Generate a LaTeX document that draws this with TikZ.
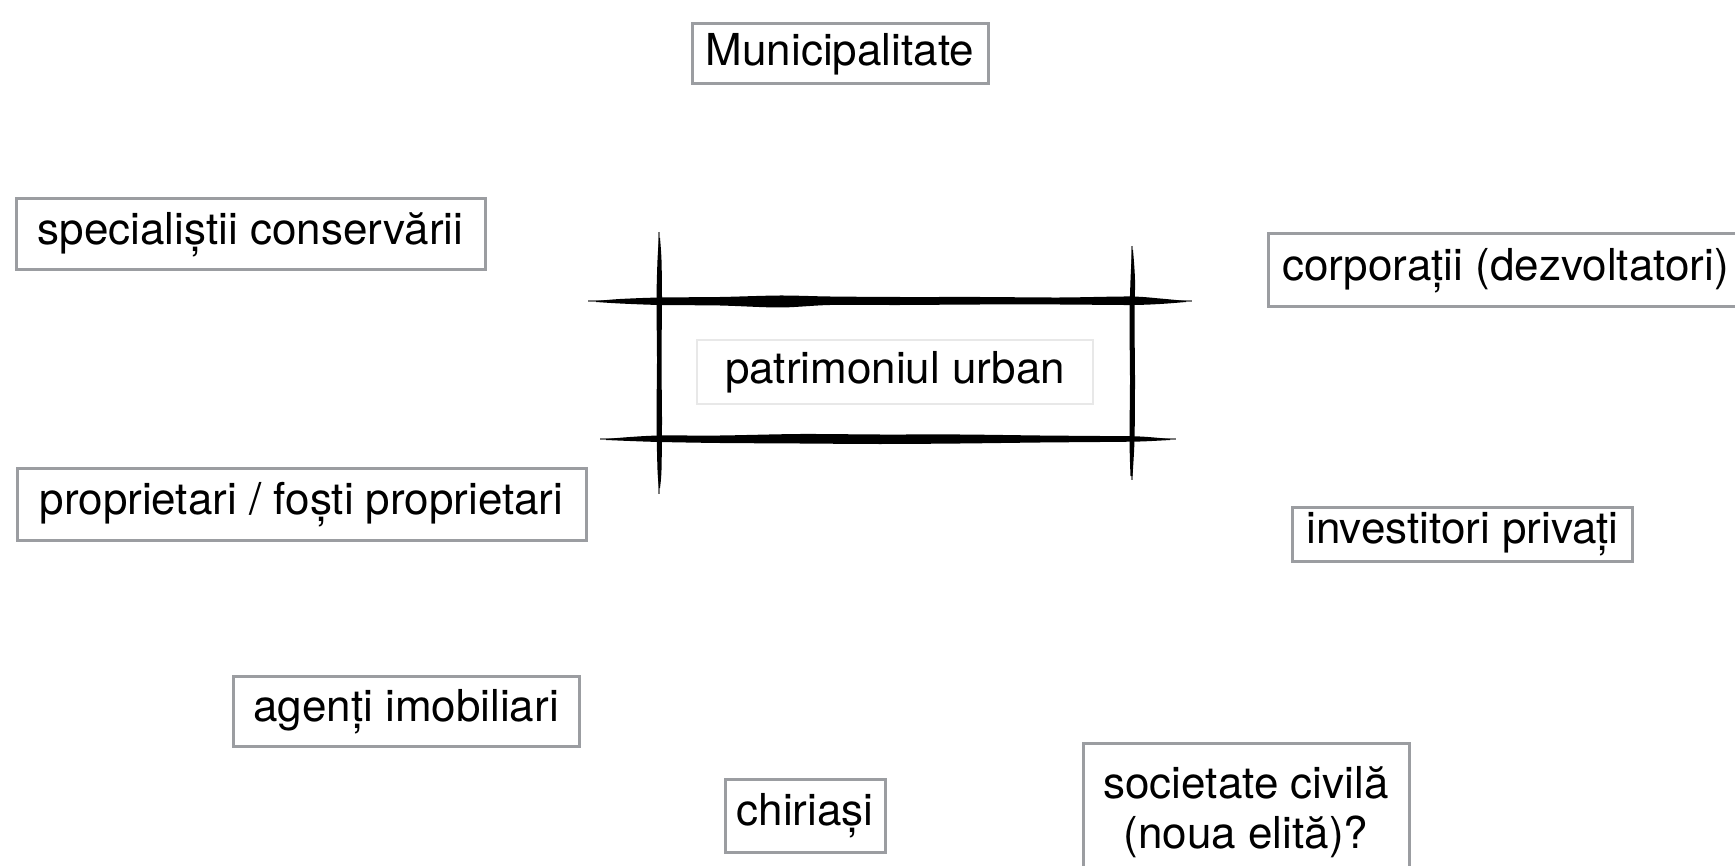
\documentclass[tikz,border=0pt]{standalone}
\usepackage{fontspec}
\setmainfont{TeX Gyre Heros}
\definecolor{boxgray}{RGB}{155,157,161}
\definecolor{faint}{RGB}{232,232,232}
\definecolor{brushgray}{RGB}{120,120,120}
\tikzset{
  actor/.style={draw=boxgray, line width=1.5pt, fill=white, inner sep=0pt, align=center,
    font=\fontsize{22}{25}\selectfont, text=black},
}
\begin{document}
\begin{tikzpicture}[x=0.5pt,y=-0.5pt]
\useasboundingbox (0,0) rectangle (1735,866);
\clip (0,0) rectangle (1735,866);
\fill[white] (0,0) rectangle (1735,866);

% sketchy frame: faint brush tails
\draw[brushgray, line width=1pt] (588,301) -- (1192,301);
\draw[brushgray, line width=1pt] (600,439) -- (1176,439);
\draw[brushgray, line width=0.8pt] (659,232) -- (659,494);
\draw[brushgray, line width=0.8pt] (1132,246) -- (1132,480);
% strokes
\fill[black] plot[smooth] coordinates {(596,301) (620,299) (660,297.5) (720,297) (780,295.5) (830,296.5) (900,297) (980,297) (1060,297.5) (1130,296.5) (1160,298.5) (1186,301)}
  -- plot[smooth] coordinates {(1186,302) (1160,304) (1130,305) (1060,304.5) (980,304.5) (900,305) (830,305) (780,307.5) (720,305.5) (660,305) (620,303.5) (596,302)} -- cycle;
\fill[black] plot[smooth] coordinates {(606,439) (630,437) (660,435.5) (720,435.5) (800,434) (880,434.5) (960,434.5) (1040,435.5) (1100,436) (1140,436.5) (1170,439)}
  -- plot[smooth] coordinates {(1170,440) (1140,441.5) (1100,442) (1040,442.5) (960,443.5) (880,444) (800,443.5) (720,443) (660,442) (630,441) (606,440)} -- cycle;
\fill[black] plot[smooth] coordinates {(659,238) (657.5,260) (656.5,300) (657,360) (656.5,420) (657.5,470) (659,488)}
  -- plot[smooth] coordinates {(660,488) (661.5,470) (662,420) (661.5,360) (662,300) (661.5,260) (660,238)} -- cycle;
\fill[black] plot[smooth] coordinates {(1132,250) (1130.5,280) (1129.5,320) (1130,380) (1129.5,440) (1130.5,476)}
  -- plot[smooth] coordinates {(1132.5,476) (1134.5,440) (1135,380) (1134.5,320) (1135,280) (1133,250)} -- cycle;

\node[draw=faint, line width=0.6pt, inner sep=0pt, minimum width=198pt, minimum height=32pt,
  font=\fontsize{22}{25}\selectfont] (center) at (895,372) {patrimoniul urban};

\node[actor, minimum width=148pt, minimum height=30pt] (mun) at (840,54) {Municipalitate};
\node[actor, minimum width=234.5pt, minimum height=35.5pt] (spec) at (250.5,234.5) {specialiștii conservării};
\node[actor, minimum width=237.5pt, minimum height=36.5pt] (corp) at (1505.5,270.5) {corporații (dezvoltatori)};
\node[actor, minimum width=284.5pt, minimum height=36pt] (prop) at (301.5,504.5) {proprietari / foști proprietari};
\node[actor, minimum width=170pt, minimum height=27pt] (inv) at (1462.5,534) {investitori privați};
\node[actor, minimum width=173pt, minimum height=35pt] (agent) at (406,711.5) {agenți imobiliari};
\node[actor, minimum width=80pt, minimum height=36.5pt] (chir) at (805,815.5) {chiriași};
\node[actor, minimum width=163pt, minimum height=72pt, anchor=north] (soc) at (1246,742) {};
\node[font=\fontsize{22}{25}\selectfont, align=center, anchor=north] (soctext) at (1246,759) {societate civilă\\(noua elită)?};
\end{tikzpicture}
\end{document}
